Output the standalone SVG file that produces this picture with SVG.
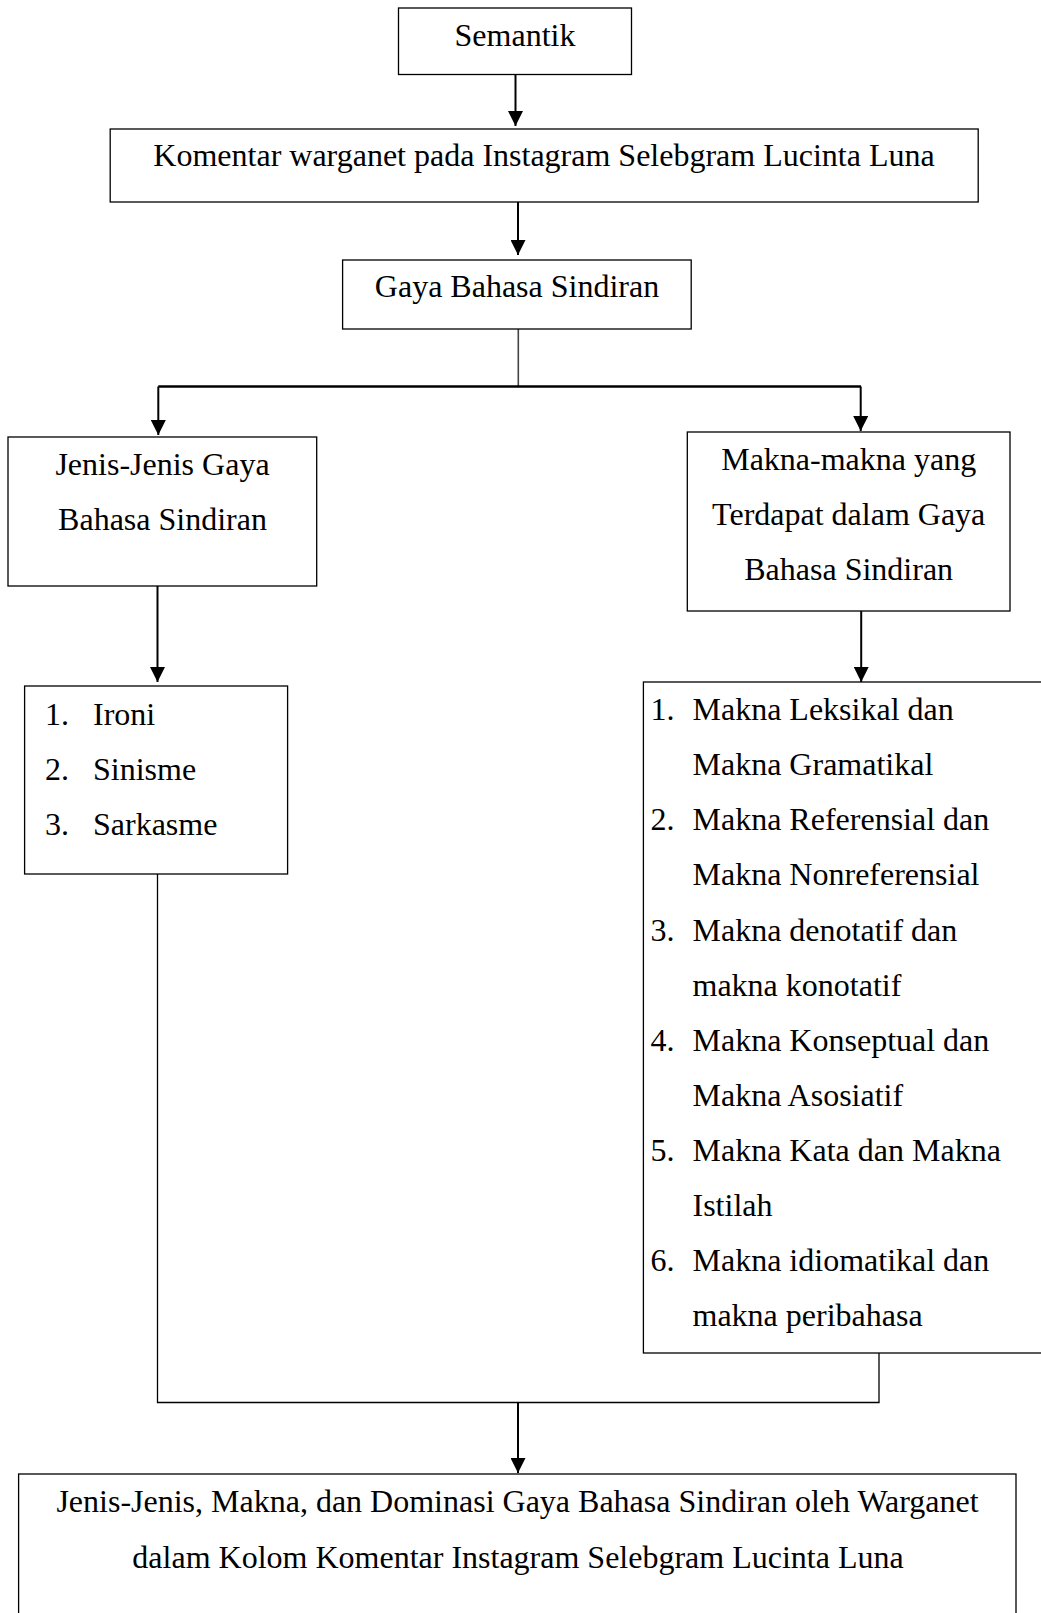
<svg xmlns="http://www.w3.org/2000/svg" width="1041" height="1613" viewBox="0 0 1041 1613">
<defs>
<marker id="arr" markerUnits="userSpaceOnUse" markerWidth="15" markerHeight="15" refX="15" refY="7.5" orient="auto">
<path d="M0,0 L15,7.5 L0,15 z" fill="#000"/>
</marker>
<style>
.box{fill:#fff;stroke:#000;stroke-width:1.3}
.t{font-family:"Liberation Serif","Times New Roman",serif;font-size:32px;fill:#000}
.c{text-anchor:middle}
.arrow{fill:none;stroke:#000;stroke-width:2;marker-end:url(#arr)}
.thin{fill:none;stroke:#000;stroke-width:1.3}
</style>
</defs>
<rect width="1041" height="1613" fill="#fff"/>
<g id="connectors">
<path class="arrow" d="M515.5 74.5 V126"/>
<path class="arrow" d="M518 202 V255"/>
<path fill="none" stroke="#444" stroke-width="1.6" d="M518.3 329 V386"/>
<path fill="none" stroke="#000" stroke-width="2.4" d="M158.3 386.5 H861"/>
<path class="arrow" d="M158.3 386.5 V435"/>
<path class="arrow" d="M860.7 386.5 V431"/>
<path class="arrow" d="M157.5 586 V682"/>
<path class="arrow" d="M861.2 611 V682"/>
<path class="thin" d="M157.5 874 V1402.5 H879 V1353"/>
<path class="arrow" d="M518 1402.5 V1473"/>
</g>
<g id="semantik">
<rect class="box" x="398.5" y="8" width="233" height="66.5"/>
<text class="t c" x="515" y="46">Semantik</text>
</g>
<g id="komentar">
<rect class="box" x="110.2" y="129" width="868" height="73"/>
<text class="t c" x="544" y="166">Komentar warganet pada Instagram Selebgram Lucinta Luna</text>
</g>
<g id="gaya">
<rect class="box" x="342.6" y="260" width="348.6" height="69"/>
<text class="t c" x="517" y="297">Gaya Bahasa Sindiran</text>
</g>
<g id="jenis">
<rect class="box" x="8" y="437" width="308.7" height="149"/>
<text class="t c" x="162.5" y="475">Jenis-Jenis Gaya</text>
<text class="t c" x="162.5" y="530">Bahasa Sindiran</text>
</g>
<g id="makna">
<rect class="box" x="687.3" y="432" width="322.7" height="179"/>
<text class="t c" x="848.7" y="470">Makna-makna yang</text>
<text class="t c" x="848.7" y="525">Terdapat dalam Gaya</text>
<text class="t c" x="848.7" y="580">Bahasa Sindiran</text>
</g>
<g id="jenis-list">
<rect class="box" x="24.6" y="686" width="263" height="188"/>
<text class="t" x="45" y="725">1.</text><text class="t" x="93" y="725">Ironi</text>
<text class="t" x="45" y="780">2.</text><text class="t" x="93" y="780">Sinisme</text>
<text class="t" x="45" y="835">3.</text><text class="t" x="93" y="835">Sarkasme</text>
</g>
<g id="makna-list">
<rect class="box" x="643.4" y="682" width="420" height="671"/>
<text class="t" x="650.5" y="720">1.</text><text class="t" x="692.5" y="720">Makna Leksikal dan</text>
<text class="t" x="692.5" y="775">Makna Gramatikal</text>
<text class="t" x="650.5" y="830">2.</text><text class="t" x="692.5" y="830">Makna Referensial dan</text>
<text class="t" x="692.5" y="885">Makna Nonreferensial</text>
<text class="t" x="650.5" y="940.5">3.</text><text class="t" x="692.5" y="940.5">Makna denotatif dan</text>
<text class="t" x="692.5" y="995.5">makna konotatif</text>
<text class="t" x="650.5" y="1050.5">4.</text><text class="t" x="692.5" y="1050.5">Makna Konseptual dan</text>
<text class="t" x="692.5" y="1105.5">Makna Asosiatif</text>
<text class="t" x="650.5" y="1161">5.</text><text class="t" x="692.5" y="1161">Makna Kata dan Makna</text>
<text class="t" x="692.5" y="1216">Istilah</text>
<text class="t" x="650.5" y="1271">6.</text><text class="t" x="692.5" y="1271">Makna idiomatikal dan</text>
<text class="t" x="692.5" y="1326">makna peribahasa</text>
</g>
<g id="hasil">
<rect class="box" x="18.6" y="1474" width="997.4" height="200"/>
<text class="t c" x="517.5" y="1512">Jenis-Jenis, Makna, dan Dominasi Gaya Bahasa Sindiran oleh Warganet</text>
<text class="t c" x="518" y="1568">dalam Kolom Komentar Instagram Selebgram Lucinta Luna</text>
</g>
</svg>
